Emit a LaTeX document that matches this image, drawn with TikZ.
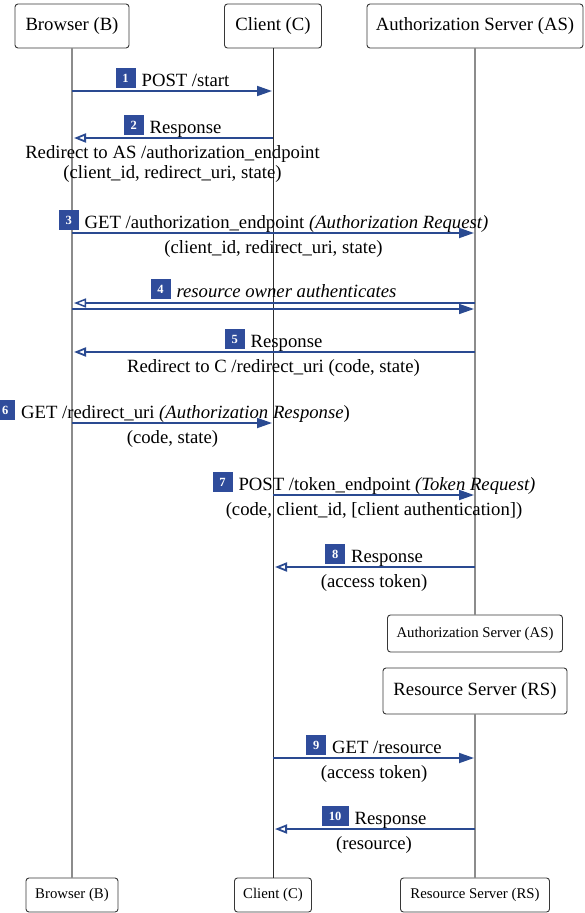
\documentclass[tikz,border=0pt]{standalone}
\usepackage{fontspec}
\setmainfont{Liberation Serif}
\usetikzlibrary{arrows.meta}

\definecolor{flowblue}{RGB}{42,74,145}
\definecolor{tagblue}{RGB}{47,76,155}
\definecolor{lifegray}{RGB}{140,140,140}
\definecolor{lifedark}{RGB}{45,45,45}
\definecolor{boxline}{RGB}{55,55,55}

\newcommand\bigtext{\fontsize{18.7}{20}\selectfont}
\newcommand\smalltext{\fontsize{14.8}{17}\selectfont}
% numbered step tag: white bold number on a blue square
\newcommand\numtag[2][20pt]{\raisebox{4pt}{\setlength\fboxsep{0pt}\colorbox{tagblue}{\makebox[#1]{\rule[-6pt]{0pt}{20pt}\color{white}\fontsize{12.5}{12.5}\selectfont\bfseries #2}}}\hspace{6pt}}

\begin{document}
\begin{tikzpicture}[x=1pt,y=-1pt,
  actor/.style={draw=boxline, line width=0.9pt, rounded corners=3pt, fill=white, inner sep=0pt},
  headbox/.style={actor, font=\bigtext, minimum height=44pt},
  footbox/.style={actor, font=\smalltext, minimum height=34pt},
  lifeline/.style={draw=lifegray, line width=1.1pt},
  clientline/.style={draw=lifedark, line width=0.8pt},
  req/.style={draw=flowblue, line width=1.8pt, -{Triangle[length=15pt,width=10pt]}, shorten >=1pt},
  resp/.style={draw=flowblue, line width=1.8pt, -{Triangle[open,length=12pt,width=9pt]}, shorten >=2pt},
  tag/.style={anchor=base, yshift=5pt, inner sep=0pt, font=\bigtext},
  note/.style={anchor=north, yshift=-7pt, inner sep=0pt, align=center, font=\bigtext}
]
\useasboundingbox (0,0) rectangle (584,913);

% participants, top row
\node[headbox, minimum width=114pt] (bT) at (72,26) {Browser (B)};
\node[headbox, minimum width=97pt]  (cT) at (273,26) {Client (C)};
\node[headbox, minimum width=216pt] (aT) at (475,26) {Authorization Server (AS)};

% hand-over from AS to RS on the right lane
\node[actor, font=\smalltext, minimum width=175pt, minimum height=37pt] (aM) at (475,633.5) {Authorization Server (AS)};
\node[headbox, minimum width=184pt, minimum height=46pt] (rM) at (475,691) {Resource Server (RS)};

% participants, bottom row
\node[footbox, minimum width=92pt]  (bB) at (72,895) {Browser (B)};
\node[footbox, minimum width=77pt]  (cB) at (273,895) {Client (C)};
\node[footbox, minimum width=149pt] (rB) at (475,895) {Resource Server (RS)};

% lifelines
\draw[lifeline] (bT.south) -- (bB.north);
\draw[clientline] (cT.south) -- (cB.north);
\draw[lifeline] (aT.south) -- (aM.north);
\draw[lifeline] (rM.south) -- (rB.north);

% message end points on the lifelines
\path (bT |- 0,91)  coordinate (b1)  (cT |- 0,91)  coordinate (c1)
      (bT |- 0,138) coordinate (b2)  (cT |- 0,138) coordinate (c2)
      (bT |- 0,233) coordinate (b3)  (aT |- 0,233) coordinate (a3)
      (bT |- 0,303) coordinate (b4u) (aT |- 0,303) coordinate (a4u)
      (bT |- 0,309) coordinate (b4d) (aT |- 0,309) coordinate (a4d)
      (bT |- 0,352) coordinate (b5)  (aT |- 0,352) coordinate (a5)
      (bT |- 0,423) coordinate (b6)  (cT |- 0,423) coordinate (c6)
      (cT |- 0,495) coordinate (c7)  (aT |- 0,495) coordinate (a7)
      (cT |- 0,567) coordinate (c8)  (aT |- 0,567) coordinate (a8)
      (cT |- 0,758) coordinate (c9)  (rM |- 0,758) coordinate (r9)
      (cT |- 0,829) coordinate (c10) (rM |- 0,829) coordinate (r10);

% 1-2: start
\draw[req] (b1) -- node[tag]{\numtag{1}POST /start} (c1);
\draw[resp] (c2) -- node[tag]{\numtag{2}Response}
  node[note]{Redirect to AS /authorization\_endpoint\\(client\_id, redirect\_uri, state)} (b2);

% 3-5: authorization request
\draw[req] (b3) -- node[tag]{\numtag{3}GET /authorization\_endpoint \textit{(Authorization Request)}}
  node[note]{(client\_id, redirect\_uri, state)} (a3);
\draw[resp, line width=1.5pt] (a4u) -- node[tag, yshift=1pt]{\numtag{4}\textit{resource owner authenticates}} (b4u);
\draw[req, line width=1.5pt] (b4d) -- (a4d);
\draw[resp] (a5) -- node[tag]{\numtag{5}Response}
  node[note]{Redirect to C /redirect\_uri (code, state)} (b5);

% 6: authorization response
\draw[req] (b6) -- node[tag]{\numtag{6}GET /redirect\_uri \textit{(Authorization Response})}
  node[note]{(code, state)} (c6);

% 7-8: token request
\draw[req] (c7) -- node[tag]{\numtag{7}POST /token\_endpoint \textit{(Token Request)}}
  node[note]{(code, client\_id, [client authentication])} (a7);
\draw[resp] (a8) -- node[tag]{\numtag{8}Response}
  node[note]{(access token)} (c8);

% 9-10: resource access
\draw[req] (c9) -- node[tag]{\numtag{9}GET /resource}
  node[note]{(access token)} (r9);
\draw[resp] (r10) -- node[tag]{\numtag[27pt]{10}Response}
  node[note]{(resource)} (c10);
\end{tikzpicture}
\end{document}
